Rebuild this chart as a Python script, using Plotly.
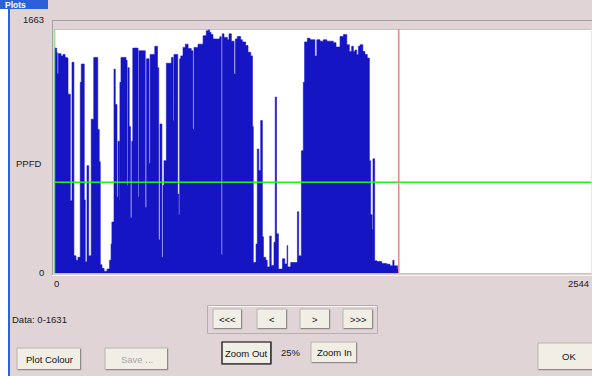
import plotly.graph_objects as go

# ---------------- data ----------------
x_max = 2544          # x axis end label
y_max = 1663          # y axis top label
data_end = 1631       # last sample (red cursor line)
threshold = 620       # green horizontal line
seg_start = [0, 10, 13, 18, 31, 40, 50, 59, 64, 75, 83, 92, 102, 111, 122, 127, 141, 146, 154, 162,
             174, 186, 205, 212, 217, 225, 235, 249, 261, 268, 272, 282, 288, 296, 301, 308, 310, 315,
             339, 344, 348, 354, 360, 366, 371, 396, 400, 430, 436, 448, 453, 475, 488, 494, 500, 509,
             514, 519, 530, 554, 562, 566, 584, 589, 593, 598, 609, 620, 633, 648, 656, 661, 680, 704,
             719, 730, 735, 742, 751, 783, 790, 795, 803, 819, 827, 838, 851, 857, 866, 882, 890, 906,
             917, 930, 938, 942, 955, 961, 968, 977, 985, 990, 1001, 1008, 1020, 1027, 1040, 1046, 1052,
             1061, 1080, 1091, 1102, 1105, 1119, 1151, 1157, 1170, 1179, 1185, 1198, 1211, 1234, 1243,
             1258, 1274, 1290, 1321, 1334, 1353, 1369, 1385, 1397, 1408, 1416, 1424, 1432, 1440, 1448,
             1461, 1471, 1482, 1492, 1498, 1505, 1509, 1517, 1527, 1551, 1574, 1590, 1603, 1609, 1625]
seg_ppfd = [1533, 1504, 1360, 1495, 1480, 1490, 1470, 1465, 1220, 495, 1436, 120, 90, 110, 1300, 1425, 500, 80, 733, 120,
            1050, 1470, 980, 760, 60, 35, 15, 30, 90, 200, 350, 1390, 1150, 520, 900, 500, 1300, 1470,
            1450, 600, 1400, 1000, 380, 900, 1533, 520, 1515, 450, 1460, 750, 1490, 1545, 1400, 230, 1017, 110,
            600, 767, 1430, 1470, 1040, 1490, 540, 400, 1460, 1480, 1538, 1560, 1530, 1515, 980, 1538, 1560, 1617,
            1651, 1663, 1640, 1625, 1595, 1610, 130, 1630, 1606, 1590, 1630, 1580, 1357, 1595, 1612, 1590, 1575, 1550,
            1505, 1480, 1000, 75, 200, 847, 700, 1040, 250, 110, 90, 45, 255, 55, 212, 1200, 270,
            30, 100, 65, 190, 45, 75, 420, 120, 835, 1300, 1575, 1600, 1590, 1480, 1590,
            1580, 1590, 1580, 1570, 1540, 1612, 1625, 1556, 1510, 1545, 1510, 1520, 1488, 1545, 1556,
            1510, 1490, 1465, 767, 400, 300, 780, 87, 82, 68, 63, 52, 90, 52, 30]

# ---------------- layout helpers ----------------
W, H = 592, 376
BG = "#E1D4D7"
FONT = "Liberation Sans"


def px(x):
    return x / W


def py(y):
    return 1 - y / H


fig = go.Figure()
fig.add_trace(go.Scatter(
    x=seg_start + [data_end], y=seg_ppfd + [seg_ppfd[-1]],
    mode="lines", line=dict(shape="hv", width=0.6, color="#1515C4"),
    fill="tozeroy", fillcolor="#1515C4", hoverinfo="skip", showlegend=False))

shapes = []
annotations = []

# plot frame lines (data coordinates)
shapes.append(dict(type="line", xref="x", yref="y", x0=0, x1=x_max, y0=y_max, y1=y_max,
                   line=dict(color="#6EE06E", width=1.5)))
shapes.append(dict(type="line", xref="x", yref="y", x0=0, x1=0, y0=0, y1=y_max,
                   line=dict(color="#3CE03C", width=1.5)))
shapes.append(dict(type="line", xref="x", yref="y", x0=0, x1=x_max, y0=threshold, y1=threshold,
                   line=dict(color="#22F022", width=1.5)))
shapes.append(dict(type="line", xref="x", yref="y", x0=data_end, x1=data_end, y0=0, y1=y_max,
                   line=dict(color="#E88888", width=1.5)))
shapes.append(dict(type="line", xref="x", yref="y", x0=data_end, x1=x_max, y0=0, y1=0,
                   line=dict(color="#60C860", width=1)))


def pline(x0, y0, x1, y1, color, width=1):
    shapes.append(dict(type="line", xref="paper", yref="paper", x0=px(x0), y0=py(y0),
                       x1=px(x1), y1=py(y1), line=dict(color=color, width=width)))


def prect(x0, y0, x1, y1, fill, line=None, width=1):
    shapes.append(dict(type="rect", xref="paper", yref="paper", x0=px(x0), y0=py(y0),
                       x1=px(x1), y1=py(y1), fillcolor=fill,
                       line=dict(color=line or fill, width=width if line else 0), layer="below"))


def text(x, y, s, size=9.5, color="#1A1A1A", anchor="left", bold=False):
    annotations.append(dict(xref="paper", yref="paper", x=px(x), y=py(y), text=("<b>%s</b>" % s) if bold else s,
                            showarrow=False, xanchor=anchor, yanchor="middle",
                            font=dict(family=FONT, size=size, color=color)))


# window decoration
prect(0, 0, 9, H, "#FFFFFF")
prect(8, 0, 10, H, "#2A62E0")
prect(0, 0, W, 9, BG)
prect(0, 0, 48, 9, "#2C60DA")
text(3, 4.5, "Plots", size=8.5, color="#FFFFFF", bold=True)

pline(52, 20.5, W, 20.5, "#A8A0A2")
pline(52.5, 20, 52.5, 276, "#A8A0A2")
pline(52, 275.5, W, 275.5, "#F4F0F0")

# axis labels
text(46, 19.5, "1663", anchor="right")
text(46, 272, "0", anchor="right")
text(14, 163, "PPFD", anchor="left")
text(52, 283.5, "0", anchor="left")
text(591, 283.5, "2544", anchor="right")
text(10, 319, "Data: 0-1631", anchor="left")


def button(x0, y0, x1, y1, label, color="#111111", default=False):
    prect(x0, y0, x1, y1, "#F1EEE6", "#B8B2AE", 1)
    pline(x0 + 1, y1 - 0.5, x1 - 0.5, y1 - 0.5, "#8E8A88")
    pline(x1 - 0.5, y0 + 1, x1 - 0.5, y1 - 0.5, "#8E8A88")
    if default:
        shapes.append(dict(type="rect", xref="paper", yref="paper", x0=px(x0), y0=py(y0),
                           x1=px(x1), y1=py(y1), line=dict(color="#111111", width=1.2)))
    text((x0 + x1) / 2, (y0 + y1) / 2, label, color=color, anchor="center")


# nav group box
shapes.append(dict(type="rect", xref="paper", yref="paper", x0=px(207.5), y0=py(305.5),
                   x1=px(377.5), y1=py(333.5), line=dict(color="#B8AEB0", width=1), layer="below"))
pline(208.5, 306.5, 376.5, 306.5, "#F6F2F2")
button(213, 309, 242, 329, "&lt;&lt;&lt;")
button(257, 309, 287, 329, "&lt;")
button(300, 309, 330, 329, "&gt;")
button(343, 309, 373, 329, "&gt;&gt;&gt;")

button(222, 342, 271, 364, "Zoom Out", default=True)
text(291, 352.5, "25%", anchor="center")
button(311, 342, 357, 363, "Zoom In")
button(17, 348, 81, 370, "Plot Colour")
button(105, 348, 168, 370, "Save ...", color="#A8A6A2")
button(538, 343, 600, 370, "OK")

fig.update_layout(
    width=W, height=H, margin=dict(l=0, r=0, t=0, b=0),
    paper_bgcolor=BG, plot_bgcolor="#FFFFFF",
    xaxis=dict(domain=[px(54.5), px(591.4)], range=[0, x_max], showgrid=False, zeroline=False,
               showticklabels=False, showline=False, fixedrange=True),
    yaxis=dict(domain=[py(273.5), py(29)], range=[0, y_max], showgrid=False, zeroline=False,
               showticklabels=False, showline=False, fixedrange=True),
    shapes=shapes, annotations=annotations, showlegend=False,
)

fig.write_html("out.html")
